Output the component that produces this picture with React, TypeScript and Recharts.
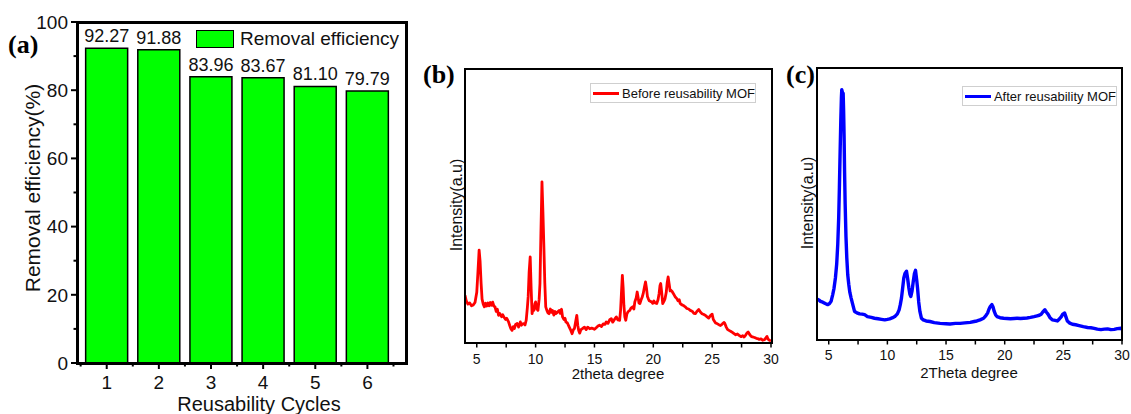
import React from 'react';
import { BarChart, Bar, XAxis, YAxis, LabelList, Legend, LineChart, Line, Label } from 'recharts';

// ---------- Panel (a) data ----------
const cycles = [1, 2, 3, 4, 5, 6];
const removalEfficiency = [92.27, 91.88, 83.96, 83.67, 81.1, 79.79];
const efficiencyTicks = [0, 10, 20, 30, 40, 50, 60, 70, 80, 90, 100];
const cycleTicks = [0.5, 1, 1.5, 2, 2.5, 3, 3.5, 4, 4.5, 5, 5.5, 6, 6.5];

// ---------- Panel (b) data: before reusability ----------
const beforeTheta = [
  4.0, 4.1, 4.25, 4.4, 4.55, 4.7, 4.85, 5.0, 5.1, 5.2, 5.28, 5.37, 5.45, 5.55, 5.65, 5.75, 5.85, 5.95, 6.05, 6.15,
  6.25, 6.35, 6.45, 6.55, 6.65, 6.75, 6.85, 6.95, 7.1, 7.2, 7.3, 7.45, 7.55, 7.7, 7.8, 7.9, 8.0, 8.1, 8.2, 8.3,
  8.43, 8.55, 8.7, 8.8, 8.9, 9.0, 9.1, 9.2, 9.3, 9.37, 9.45, 9.54, 9.62, 9.7, 9.78, 9.86, 9.93, 10.0, 10.1, 10.2,
  10.3, 10.37, 10.45, 10.54, 10.62, 10.71, 10.78, 10.86, 10.95, 11.05, 11.14, 11.25, 11.35, 11.43, 11.55, 11.65, 11.71, 11.85, 12.0, 12.1,
  12.2, 12.29, 12.4, 12.5, 12.57, 12.7, 12.86, 12.95, 13.1, 13.2, 13.3, 13.4, 13.5, 13.58, 13.66, 13.75, 13.85, 14.0, 14.15, 14.3,
  14.43, 14.6, 14.75, 14.86, 15.0, 15.15, 15.3, 15.43, 15.6, 15.75, 15.9, 16.0, 16.15, 16.3, 16.43, 16.55, 16.7, 16.86, 17.0, 17.14,
  17.22, 17.29, 17.37, 17.44, 17.5, 17.58, 17.66, 17.75, 17.85, 18.0, 18.1, 18.25, 18.35, 18.43, 18.55, 18.63, 18.7, 18.78, 18.86, 18.95,
  19.05, 19.14, 19.25, 19.34, 19.42, 19.5, 19.57, 19.65, 19.75, 19.86, 19.95, 20.05, 20.15, 20.29, 20.4, 20.49, 20.57, 20.63, 20.7, 20.8,
  20.9, 21.0, 21.1, 21.18, 21.26, 21.35, 21.43, 21.49, 21.6, 21.71, 21.85, 22.0, 22.1, 22.2, 22.29, 22.4, 22.55, 22.71, 22.85, 23.0,
  23.14, 23.3, 23.45, 23.57, 23.7, 23.86, 24.0, 24.14, 24.3, 24.45, 24.57, 24.7, 24.85, 25.0, 25.1, 25.29, 25.45, 25.6, 25.71, 25.85,
  26.0, 26.06, 26.2, 26.3, 26.43, 26.6, 26.75, 26.86, 27.0, 27.15, 27.29, 27.45, 27.6, 27.71, 27.85, 27.95, 28.06, 28.2, 28.3, 28.43,
  28.6, 28.75, 28.86, 29.0, 29.15, 29.29, 29.45, 29.55, 29.66, 29.75, 29.86, 30.0,
];
const beforeIntensity = [
  17.4, 15.5, 14.2, 14.6, 13.6, 13.9, 14.8, 18.5, 26, 33.9, 30, 21.7, 16, 14.2, 13.2, 14.5, 13.5, 14.6, 13.6, 14.8,
  13.8, 14.9, 13.5, 13.2, 11.5, 12.3, 10.1, 10.8, 9.6, 10.3, 9.5, 8.6, 9.0, 7.7, 6.4, 5.2, 4.6, 6.0, 5.3, 6.8,
  7.1, 5.8, 7.7, 6.5, 7.0, 7.1, 6.6, 8.3, 13, 17, 26, 31.4, 20, 10.7, 12.5, 11.9, 14.2, 15.0, 12.5, 11.9,
  16, 21.7, 40, 58.8, 48, 33.9, 22, 13.2, 12.0, 11.0, 10.7, 12.4, 11.2, 11.9, 10.2, 11.5, 10.7, 11.2, 11.9, 10.8,
  12.3, 9.5, 8.6, 9.0, 7.7, 7.3, 5.8, 5.0, 3.4, 4.8, 5.3, 7.8, 10.1, 6.5, 4.6, 3.6, 4.9, 5.3, 5.8, 4.9,
  5.8, 5.2, 5.4, 5.3, 5.0, 5.6, 6.2, 6.5, 6.0, 7.0, 6.8, 7.7, 7.2, 8.5, 8.9, 7.6, 8.6, 9.5, 8.4, 8.3,
  12, 18, 24.7, 20, 13.8, 9.5, 8.3, 10.5, 11.4, 11.9, 12.7, 13.2, 12.4, 15.0, 16.5, 18.6, 16.9, 14.6, 14.4, 15.6,
  16.7, 18.0, 20.5, 22.3, 20, 17.0, 16.2, 15.4, 15.2, 15.0, 14.5, 15.3, 14.6, 14.4, 15.8, 18.0, 21, 21.7, 19, 14.4,
  15.2, 16.2, 18.5, 22, 24.1, 21.5, 19, 19.3, 18.8, 18.0, 16.9, 16.2, 15.4, 15.8, 14.4, 14.0, 13.7, 13.2, 12.6, 12.4,
  11.9, 11.6, 10.8, 10.7, 11.5, 12.2, 11.3, 10.7, 10.4, 10.0, 9.5, 9.1, 10.0, 10.5, 8.6, 7.3, 7.0, 6.6, 6.4, 6.9,
  7.5, 7.3, 5.8, 5.0, 4.6, 4.2, 3.8, 3.4, 3.0, 3.3, 2.8, 2.3, 2.7, 2.2, 2.9, 3.6, 4.0, 3.0, 2.5, 2.2,
  2.0, 1.7, 1.6, 1.3, 1.5, 1.0, 1.2, 1.8, 2.4, 1.4, 1.0, 0.8,
];

// ---------- Panel (c) data: after reusability ----------
const afterTheta = [
  4.0, 4.14, 4.3, 4.49, 4.7, 4.91, 5.05, 5.2, 5.34, 5.45, 5.57, 5.68, 5.77, 5.85, 5.91, 5.97, 6.03, 6.08, 6.11, 6.17,
  6.23, 6.27, 6.31, 6.35, 6.4, 6.47, 6.54, 6.62, 6.71, 6.8, 6.91, 7.05, 7.2, 7.4, 7.63, 7.85, 8.06, 8.3, 8.63, 8.9,
  9.2, 9.5, 9.77, 10.0, 10.2, 10.45, 10.63, 10.85, 11.0, 11.1, 11.2, 11.3, 11.4, 11.5, 11.63, 11.73, 11.83, 11.92, 12.0, 12.1,
  12.2, 12.3, 12.4, 12.5, 12.57, 12.67, 12.77, 12.9, 13.06, 13.3, 13.63, 14.0, 14.49, 15.0, 15.34, 15.8, 16.2, 16.6, 17.06, 17.4,
  17.63, 17.9, 18.2, 18.4, 18.54, 18.65, 18.77, 18.91, 19.0, 19.11, 19.22, 19.34, 19.6, 19.91, 20.2, 20.49, 20.8, 21.06, 21.35, 21.63,
  21.9, 22.2, 22.5, 22.77, 22.95, 23.11, 23.25, 23.43, 23.56, 23.69, 23.85, 24.06, 24.3, 24.49, 24.68, 24.83, 24.95, 25.11, 25.22, 25.34,
  25.55, 25.77, 26.05, 26.34, 26.7, 27.06, 27.35, 27.63, 27.9, 28.2, 28.5, 28.77, 29.05, 29.34, 29.6, 29.91, 30.0,
];
const afterIntensity = [
  15.0, 14.8, 14.2, 13.9, 13.4, 13.0, 13.3, 14.2, 16.7, 19, 22.8, 28, 35.2, 45, 56.2, 69, 80.9, 89, 92.0, 91,
  90.7, 84, 74.7, 62, 50.0, 38, 30.2, 24, 20.4, 17.5, 15.4, 13.0, 10.5, 10.0, 9.6, 9.5, 9.3, 8.6, 8.3, 8.0,
  7.8, 7.6, 7.4, 7.6, 7.8, 8.2, 8.6, 9.6, 11.1, 13, 15.4, 19, 22.8, 24.5, 25.3, 22.5, 19.1, 16.8, 16.0, 18,
  21.3, 24.3, 25.6, 22, 19.1, 14, 10.5, 8.0, 7.4, 7.0, 6.8, 6.4, 6.1, 6.0, 5.9, 6.1, 6.1, 6.3, 6.5, 6.8,
  7.0, 7.4, 8.0, 9.0, 9.9, 11.2, 12.3, 13.0, 12.2, 10.5, 9.3, 8.6, 8.2, 8.0, 7.9, 7.8, 7.9, 8.0, 7.9, 8.0,
  8.1, 8.3, 8.6, 8.9, 9.1, 9.5, 10.3, 11.1, 10.2, 9.5, 8.3, 7.4, 7.2, 7.0, 7.8, 8.6, 9.5, 9.9, 8.5, 7.0,
  6.2, 5.8, 5.6, 5.3, 4.9, 4.6, 4.5, 4.3, 4.0, 3.8, 4.0, 4.1, 3.8, 3.9, 4.2, 4.3, 4.0,
];
const thetaTicks = [5, 7.5, 10, 12.5, 15, 17.5, 20, 22.5, 25, 27.5, 30];

// ---------- table building ----------
const barData = cycles.map((c, i) => ({ cycle: c, efficiency: removalEfficiency[i] }));
const beforeData = beforeTheta.map((t, i) => ({ theta: t, intensity: beforeIntensity[i] }));
const afterData = afterTheta.map((t, i) => ({ theta: t, intensity: afterIntensity[i] }));

const SANS = '"Liberation Sans", Arial, sans-serif';
const SERIF = '"Liberation Serif", "Times New Roman", serif';
const INK = '#111';

const EffTick = (props: any) => {
  const { x, y, payload } = props;
  const v = payload.value;
  const axisX = x + 9;
  const major = v % 20 === 0;
  return (
    <g>
      <line x1={axisX - (major ? 6 : 3.5)} x2={axisX} y1={y} y2={y} stroke="#000" strokeWidth={2} />
      {major && (
        <text x={x} y={y} dy="0.36em" textAnchor="end" fontSize={19} fill={INK} fontFamily={SANS}>
          {v}
        </text>
      )}
    </g>
  );
};

const CycleTick = (props: any) => {
  const { x, y, payload } = props;
  const v = payload.value;
  const axisY = y - 13;
  const major = Number.isInteger(v);
  return (
    <g>
      <line x1={x} x2={x} y1={axisY} y2={axisY + (major ? 6 : 3.5)} stroke="#000" strokeWidth={2} />
      {major && (
        <text x={x} y={y} dy="0.71em" textAnchor="middle" fontSize={19} fill={INK} fontFamily={SANS}>
          {v}
        </text>
      )}
    </g>
  );
};

const ThetaTick = (props: any) => {
  const { x, y, payload, gap } = props;
  const v = payload.value;
  const axisY = y - gap;
  const major = v % 5 === 0;
  return (
    <g>
      <line x1={x} x2={x} y1={axisY} y2={axisY + 4.5} stroke="#000" strokeWidth={1.5} />
      {major && (
        <text x={x} y={y} dy="0.71em" textAnchor="middle" fontSize={14} fill={INK} fontFamily={SANS}>
          {v}
        </text>
      )}
    </g>
  );
};

const titleText = (text: string, cx: number, cy: number, size: number, rotate = false) => () =>
  (
    <text
      x={cx}
      y={cy}
      dy="0.35em"
      textAnchor="middle"
      fontSize={size}
      fill={INK}
      fontFamily={SANS}
      transform={rotate ? `rotate(-90, ${cx}, ${cy})` : undefined}
    >
      {text}
    </text>
  );

const LineLegend = (label: string, color: string, width: number) => () =>
  (
    <div
      style={{
        width,
        height: 20,
        boxSizing: 'border-box',
        border: '1px solid #cfcfcf',
        background: '#fff',
        display: 'flex',
        alignItems: 'center',
        fontFamily: SANS,
        fontSize: 13,
        color: INK,
        whiteSpace: 'nowrap',
      }}
    >
      <div style={{ width: 30, height: 3, background: color, marginLeft: 2, marginRight: 3 }} />
      <span>{label}</span>
    </div>
  );

const BarLegend = () => (
  <div style={{ display: 'flex', alignItems: 'center', fontFamily: SANS, fontSize: 19, color: INK, whiteSpace: 'nowrap' }}>
    <div
      style={{ width: 38, height: 18, boxSizing: 'border-box', background: '#00ff00', border: '1.5px solid #000', marginRight: 6 }}
    />
    <span>Removal efficiency</span>
  </div>
);

const Frame = ({ left, top, width, height, w }: { left: number; top: number; width: number; height: number; w: number }) => (
  <div
    style={{
      position: 'absolute',
      left,
      top,
      width,
      height,
      boxSizing: 'border-box',
      border: `${w}px solid #000`,
      pointerEvents: 'none',
    }}
  />
);

const letterStyle: React.CSSProperties = {
  position: 'absolute',
  fontFamily: SERIF,
  fontWeight: 'bold',
  fontSize: 26,
  lineHeight: '30px',
  color: '#000',
};

export default function App() {
  return (
    <div
      style={{
        position: 'absolute',
        left: 0,
        top: 0,
        width: 1131,
        height: 414,
        background: '#fff',
        overflow: 'hidden',
        fontFamily: SANS,
      }}
    >
      {/* Panel (a) */}
      <div style={{ position: 'absolute', left: 0, top: 0 }}>
        <BarChart width={420} height={414} data={barData} margin={{ top: 22, right: 14, bottom: 0, left: 0 }}>
          <XAxis
            dataKey="cycle"
            type="number"
            domain={[0.43, 6.74]}
            ticks={cycleTicks}
            allowDataOverflow
            height={51}
            tickSize={6}
            tickMargin={7}
            tickLine={false}
            tick={<CycleTick />}
            axisLine={false}
            interval={0}
          >
            <Label content={titleText('Reusability Cycles', 259, 404, 20)} />
          </XAxis>
          <YAxis
            domain={[0, 100]}
            ticks={efficiencyTicks}
            width={77}
            tickSize={6}
            tickMargin={3}
            tickLine={false}
            tick={<EffTick />}
            axisLine={false}
            interval={0}
          >
            <Label content={titleText('Removal efficiency(%)', 33, 188, 21, true)} />
          </YAxis>
          <Bar dataKey="efficiency" fill="#00ff00" stroke="#000" strokeWidth={1.5} barSize={42} isAnimationActive={false}>
            <LabelList
              dataKey="efficiency"
              position="top"
              offset={6}
              fontSize={18}
              fill={INK}
              fontFamily={SANS}
              formatter={(v: any) => Number(v).toFixed(2)}
            />
          </Bar>
          <Legend
            layout="horizontal"
            verticalAlign="middle"
            align="center"
            wrapperStyle={{ left: 196, top: 28, width: 215 }}
            content={BarLegend}
          />
        </BarChart>
      </div>
      <Frame left={75.5} top={20.5} width={332} height={344} w={3} />

      {/* Panel (b) */}
      <div style={{ position: 'absolute', left: 420, top: 0 }}>
        <LineChart width={366} height={414} data={beforeData} margin={{ top: 69, right: 15, bottom: 0, left: 0 }}>
          <XAxis
            dataKey="theta"
            type="number"
            domain={[4, 30]}
            ticks={thetaTicks}
            allowDataOverflow
            interval={0}
            height={71}
            tickSize={5}
            tickMargin={6}
            tickLine={false}
            tick={<ThetaTick gap={11} />}
            axisLine={false}
          >
            <Label content={titleText('2theta degree', 198, 374, 15)} />
          </XAxis>
          <YAxis domain={[0, 100]} width={45} tick={false} tickLine={false} axisLine={false}>
            <Label content={titleText('Intensity(a.u)', 36, 205, 16, true)} />
          </YAxis>
          <Line
            dataKey="intensity"
            type="linear"
            stroke="#ff0000"
            strokeWidth={2.8}
            dot={false}
            isAnimationActive={false}
            strokeLinejoin="round"
          />
          <Legend
            layout="horizontal"
            verticalAlign="middle"
            align="center"
            wrapperStyle={{ left: 170, top: 83, width: 166 }}
            content={LineLegend('Before reusability MOF', '#ff0000', 166)}
          />
        </LineChart>
      </div>
      <Frame left={464} top={68} width={309} height={276} w={2} />

      {/* Panel (c) */}
      <div style={{ position: 'absolute', left: 775, top: 0 }}>
        <LineChart width={356} height={414} data={afterData} margin={{ top: 68, right: 9, bottom: 0, left: 0 }}>
          <XAxis
            dataKey="theta"
            type="number"
            domain={[4, 30]}
            ticks={thetaTicks}
            allowDataOverflow
            interval={0}
            height={74}
            tickSize={5}
            tickMargin={5}
            tickLine={false}
            tick={<ThetaTick gap={10} />}
            axisLine={false}
          >
            <Label content={titleText('2Theta degree', 194, 373, 15)} />
          </XAxis>
          <YAxis domain={[0, 100]} width={42} tick={false} tickLine={false} axisLine={false}>
            <Label content={titleText('Intensity(a.u)', 32, 203, 16, true)} />
          </YAxis>
          <Line
            dataKey="intensity"
            type="linear"
            stroke="#0000ff"
            strokeWidth={3.4}
            dot={false}
            isAnimationActive={false}
            strokeLinejoin="round"
          />
          <Legend
            layout="horizontal"
            verticalAlign="middle"
            align="center"
            wrapperStyle={{ left: 187, top: 86, width: 155 }}
            content={LineLegend('After reusability MOF', '#0000ff', 155)}
          />
        </LineChart>
      </div>
      <Frame left={816} top={67} width={307} height={274} w={2} />

      {/* Panel letters */}
      <div style={{ ...letterStyle, left: 8, top: 30 }}>(a)</div>
      <div style={{ ...letterStyle, left: 423, top: 60 }}>(b)</div>
      <div style={{ ...letterStyle, left: 786, top: 60 }}>(c)</div>
    </div>
  );
}
